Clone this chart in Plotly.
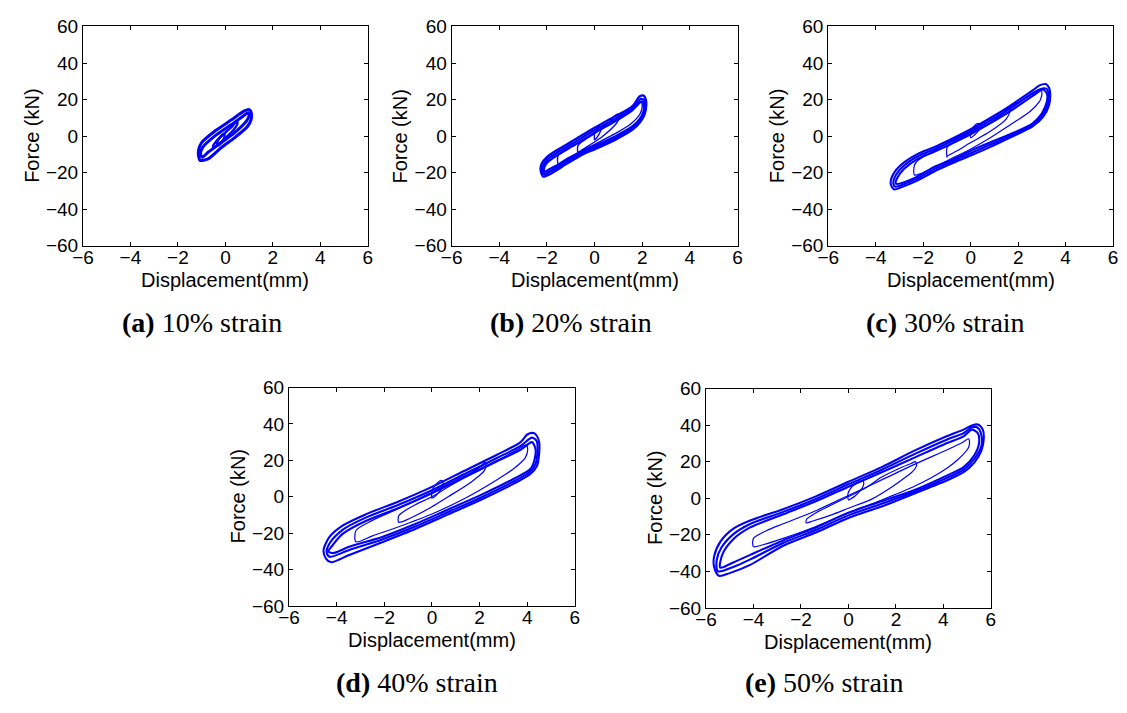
import plotly.graph_objects as go

# ---------------------------------------------------------------
# Axis ticks and panel captions
# ---------------------------------------------------------------
DISP_TICKS = [-6, -4, -2, 0, 2, 4, 6]
FORCE_TICKS = [-60, -40, -20, 0, 20, 40, 60]
PANEL_TAGS = ["a", "b", "c", "d", "e"]
STRAIN_LEVELS = ["10%", "20%", "30%", "40%", "50%"]

# ---------------------------------------------------------------
# Hysteresis loops, points are (displacement mm, force kN).
# BAND_* : outer / middle / inner edges of the repeated full-amplitude cycles
# INNER_*: the smaller ramp-up cycles
# ---------------------------------------------------------------
BAND_10 = [
    [(-1.07, -13.3), (-0.73, -12.4), (-0.17, -6.2), (0.38, -0.9), (0.93, 5.3), (1.08, 9.0),
     (1.10, 12.0), (1.05, 14.0), (0.98, 14.6), (0.80, 13.8), (0.24, 8.8), (-0.45, 2.7),
     (-1.00, -3.5), (-1.12, -7.0), (-1.14, -10.0), (-1.10, -12.5), (-1.07, -13.3)],
    [(-0.98, -11.5), (-0.73, -8.8), (-0.17, -3.5), (0.38, 1.8), (0.90, 8.5), (1.00, 11.5),
     (0.95, 12.8), (0.80, 11.5), (0.24, 6.2), (-0.45, 0.0), (-0.95, -6.0), (-1.05, -9.5),
     (-0.98, -11.5)],
]
INNER_10 = [
    [(-0.52, -5.3), (-0.40, -3.0), (0.00, 2.0), (0.30, 5.5), (0.49, 8.5), (0.50, 6.5),
     (0.35, 3.5), (0.00, -1.0), (-0.30, -4.5), (-0.50, -6.5), (-0.52, -5.3)],
    [(-0.35, -4.5), (-0.30, -2.0), (-0.15, 0.5), (-0.05, 1.0), (-0.05, -1.0), (-0.15, -3.5),
     (-0.30, -5.0), (-0.35, -4.5)],
]

BAND_20 = [
    [(-2.16, -22.1), (-1.88, -20.8), (-1.19, -15.3), (-0.50, -10.0), (0.00, -7.2), (0.88, -1.9),
     (1.58, 3.4), (1.90, 7.5), (2.10, 12.0), (2.17, 17.0), (2.15, 20.0), (2.06, 22.2),
     (1.90, 21.8), (1.58, 16.3), (0.88, 11.0), (0.00, 4.6), (-0.91, -2.5), (-1.60, -7.8),
     (-2.00, -11.5), (-2.22, -15.0), (-2.27, -18.0), (-2.22, -20.8), (-2.16, -22.1)],
    [(-2.13, -20.8), (-1.88, -19.4), (-1.19, -14.2), (-0.50, -8.9), (0.00, -6.2), (0.88, -0.9),
     (1.58, 4.4), (1.90, 8.5), (2.08, 12.7), (2.13, 17.0), (2.07, 19.8), (1.95, 20.4),
     (1.58, 15.2), (0.88, 9.6), (0.00, 3.2), (-0.91, -3.9), (-1.60, -9.2), (-2.00, -13.0),
     (-2.17, -16.2), (-2.19, -19.2), (-2.13, -20.8)],
    [(-2.10, -19.5), (-1.88, -18.0), (-1.19, -13.3), (-0.50, -8.0), (0.00, -5.3), (0.88, 0.0),
     (1.58, 5.3), (1.90, 9.5), (2.05, 13.3), (2.08, 17.0), (1.99, 19.0), (1.58, 14.2),
     (0.88, 8.3), (0.00, 1.8), (-0.91, -5.3), (-1.60, -10.6), (-2.00, -14.5), (-2.12, -17.5),
     (-2.10, -19.5)],
]
INNER_20 = [
    [(0.00, -2.0), (0.00, 1.5), (0.10, 4.2), (0.24, 5.3), (0.27, 3.5), (0.18, 1.0),
     (0.05, -1.5), (0.00, -2.0)],
    [(-0.70, -5.3), (-0.50, -2.7), (0.00, 1.5), (0.60, 7.6), (0.95, 12.0), (1.03, 11.0),
     (0.98, 8.3), (0.85, 6.0), (0.33, -0.2), (-0.22, -5.0), (-0.64, -8.5), (-0.70, -8.8),
     (-0.70, -5.3)],
    [(-1.53, -10.6), (-1.20, -7.5), (-0.60, -3.0), (0.00, 2.0), (0.88, 8.5), (1.58, 14.5),
     (1.95, 19.0), (2.00, 16.0), (1.90, 12.0), (1.50, 6.5), (0.88, 1.5), (0.00, -4.5),
     (-0.60, -8.5), (-1.20, -12.5), (-1.53, -15.0), (-1.53, -10.6)],
]

BAND_30 = [
    [(-3.20, -29.2), (-2.93, -28.0), (-2.23, -24.2), (-1.54, -19.3), (-0.85, -15.2), (0.00, -10.6),
     (0.81, -6.0), (1.64, -0.9), (2.61, 5.3), (3.05, 10.5), (3.30, 17.0), (3.35, 23.0),
     (3.30, 26.5), (3.16, 28.5), (2.90, 27.8), (2.61, 25.0), (1.64, 16.5), (0.81, 9.8),
     (0.00, 3.8), (-0.85, -1.8), (-1.54, -6.0), (-2.23, -9.7), (-2.79, -14.2), (-3.20, -19.5),
     (-3.37, -24.8), (-3.32, -27.8), (-3.20, -29.2)],
    [(-3.18, -27.6), (-2.93, -26.8), (-2.23, -23.1), (-1.54, -18.0), (-0.85, -14.2), (0.00, -9.3),
     (0.81, -4.7), (1.64, 0.0), (2.61, 6.1), (3.02, 11.5), (3.25, 17.7), (3.29, 23.0),
     (3.18, 26.0), (2.90, 25.6), (2.61, 23.5), (1.64, 15.0), (0.81, 8.4), (0.00, 2.4),
     (-0.85, -3.1), (-1.54, -7.2), (-2.23, -11.0), (-2.79, -15.9), (-3.15, -21.2),
     (-3.26, -25.4), (-3.18, -27.6)],
    [(-3.15, -26.0), (-2.93, -25.7), (-2.23, -22.0), (-1.54, -16.8), (-0.85, -13.3), (0.00, -8.0),
     (0.81, -3.5), (1.64, 0.9), (2.61, 7.0), (3.00, 12.5), (3.20, 18.5), (3.22, 23.0),
     (3.05, 25.5), (2.61, 22.0), (1.64, 13.5), (0.81, 7.0), (0.00, 1.0), (-0.85, -4.4),
     (-1.54, -8.5), (-2.23, -12.4), (-2.79, -17.7), (-3.10, -23.0), (-3.15, -26.0)],
]
INNER_30 = [
    [(0.00, -0.9), (0.00, 2.5), (0.12, 5.2), (0.32, 7.0), (0.40, 5.8), (0.33, 3.0),
     (0.15, 0.5), (0.00, -0.9)],
    [(-1.00, -6.2), (-0.85, -4.4), (0.00, 1.8), (0.81, 7.1), (1.40, 13.0), (1.64, 16.3),
     (1.66, 14.0), (1.50, 9.5), (0.81, 2.5), (0.00, -3.5), (-0.57, -8.0), (-0.99, -11.0),
     (-1.00, -11.5), (-1.00, -6.2)],
    [(-2.37, -15.9), (-2.23, -13.3), (-1.54, -8.0), (-0.85, -2.7), (0.00, 3.0), (0.81, 9.5),
     (1.64, 16.0), (2.61, 23.0), (2.95, 25.7), (3.00, 23.0), (2.95, 20.4), (2.90, 19.0),
     (2.50, 13.5), (1.64, 6.0), (0.81, -1.0), (0.00, -7.0), (-0.85, -12.5), (-1.54, -17.0),
     (-2.10, -20.5), (-2.37, -21.2), (-2.37, -15.9)],
]

BAND_40 = [
    [(-4.23, -36.0), (-3.47, -32.0), (-2.09, -25.0), (-0.70, -17.7), (0.68, -9.7), (2.06, -1.7),
     (3.44, 7.2), (4.13, 12.5), (4.41, 17.0), (4.50, 24.0), (4.50, 30.0), (4.40, 33.5),
     (4.27, 35.0), (4.00, 34.2), (3.72, 30.0), (2.75, 23.2), (1.37, 14.3), (0.00, 5.4),
     (-1.40, -2.6), (-2.78, -9.7), (-3.75, -15.9), (-4.30, -22.1), (-4.55, -29.3),
     (-4.45, -34.0), (-4.23, -36.0)],
    [(-4.30, -33.0), (-3.47, -29.3), (-2.09, -23.5), (-0.70, -16.4), (0.68, -8.4), (2.06, -0.4),
     (3.44, 8.5), (4.13, 13.9), (4.36, 18.5), (4.43, 25.0), (4.40, 30.5), (4.20, 32.5),
     (3.72, 27.9), (2.75, 21.4), (1.37, 12.5), (0.00, 3.6), (-1.40, -4.4), (-2.78, -11.5),
     (-3.75, -18.2), (-4.30, -25.7), (-4.42, -30.5), (-4.30, -33.0)],
    [(-4.35, -30.0), (-4.16, -31.0), (-3.47, -27.5), (-2.09, -22.1), (-0.70, -15.0), (0.68, -7.0),
     (2.06, 1.0), (3.44, 9.9), (4.13, 15.2), (4.30, 20.0), (4.35, 26.0), (4.20, 30.0),
     (3.72, 25.8), (2.75, 19.6), (1.37, 10.7), (0.00, 1.9), (-1.40, -6.2), (-2.78, -13.3),
     (-3.75, -20.4), (-4.25, -28.0), (-4.35, -30.0)],
]
INNER_40 = [
    [(0.00, -0.8), (0.00, 3.0), (0.15, 6.5), (0.40, 9.0), (0.47, 7.5), (0.40, 4.5),
     (0.20, 1.0), (0.05, -0.5), (0.00, -0.8)],
    [(-1.40, -10.6), (-1.26, -8.8), (-0.70, -4.4), (0.00, 0.0), (0.68, 5.4), (1.37, 10.7),
     (2.06, 16.9), (2.22, 19.1), (2.27, 17.0), (2.20, 14.3), (1.64, 8.0), (0.68, 0.0),
     (0.00, -5.5), (-0.70, -10.5), (-1.26, -13.8), (-1.40, -14.0), (-1.40, -10.6)],
    [(-3.19, -18.6), (-2.50, -13.0), (-1.40, -6.5), (0.00, 2.5), (1.37, 11.5), (2.75, 20.0),
     (3.60, 26.0), (3.95, 28.5), (4.02, 26.0), (3.92, 21.5), (3.44, 15.5), (2.75, 9.5),
     (1.37, -1.0), (0.00, -9.5), (-1.40, -16.5), (-2.50, -21.5), (-3.19, -24.8), (-3.19, -18.6)],
]

BAND_50 = [
    [(-5.45, -42.5), (-5.00, -41.0), (-4.14, -36.5), (-2.75, -26.0), (-1.37, -18.8), (0.00, -10.8),
     (1.40, -4.5), (2.78, 2.6), (4.16, 9.8), (4.85, 14.2), (5.30, 19.5), (5.60, 26.0),
     (5.70, 32.5), (5.66, 37.5), (5.45, 40.3), (5.20, 39.8), (4.85, 37.5), (4.16, 34.0),
     (2.78, 26.0), (1.40, 17.0), (0.00, 9.0), (-1.37, 1.0), (-2.75, -6.0), (-4.14, -12.2),
     (-4.83, -16.5), (-5.38, -23.5), (-5.66, -32.0), (-5.65, -38.0), (-5.45, -42.5)],
    [(-5.50, -40.0), (-4.83, -37.5), (-4.14, -33.5), (-2.75, -24.5), (-1.37, -17.4), (0.00, -9.4),
     (1.40, -3.1), (2.78, 3.5), (4.16, 11.2), (4.85, 15.6), (5.30, 21.5), (5.60, 28.5),
     (5.60, 34.5), (5.45, 38.5), (5.20, 38.8), (4.85, 35.6), (4.16, 32.1), (2.78, 24.1),
     (1.40, 15.6), (0.00, 7.6), (-1.37, -0.4), (-2.75, -7.5), (-4.14, -14.1), (-4.83, -19.5),
     (-5.35, -27.0), (-5.55, -34.0), (-5.50, -40.0)],
    [(-5.40, -38.0), (-4.83, -35.0), (-4.14, -31.0), (-2.75, -23.1), (-1.37, -16.0), (0.00, -8.0),
     (1.40, -1.7), (2.78, 4.5), (4.16, 12.5), (4.85, 17.0), (5.30, 23.5), (5.50, 30.0),
     (5.45, 35.5), (5.20, 37.5), (4.85, 33.8), (4.16, 30.2), (2.78, 22.2), (1.40, 14.2),
     (0.00, 6.3), (-1.37, -1.7), (-2.75, -8.8), (-4.14, -16.0), (-4.83, -22.2), (-5.30, -30.5),
     (-5.40, -38.0)],
]
INNER_50 = [
    [(0.00, -1.0), (-0.02, 2.5), (0.10, 5.5), (0.35, 8.5), (0.58, 9.8), (0.65, 8.0),
     (0.55, 5.0), (0.30, 1.5), (0.08, -0.5), (0.00, -1.0)],
    [(-1.76, -11.5), (-1.37, -8.0), (-0.68, -3.5), (0.00, 0.9), (0.70, 5.4), (1.40, 11.6),
     (2.09, 16.0), (2.64, 19.0), (2.82, 20.0), (2.87, 18.0), (2.70, 14.5), (2.40, 11.5),
     (1.81, 6.0), (0.98, -0.5), (0.00, -5.5), (-0.68, -9.0), (-1.50, -12.5), (-1.78, -13.5),
     (-1.76, -11.5)],
    [(-4.00, -22.0), (-3.44, -17.7), (-2.75, -14.0), (-1.40, -7.0), (0.00, 1.5), (1.40, 10.0),
     (2.78, 18.5), (4.16, 26.5), (4.80, 30.5), (5.06, 32.5), (5.10, 30.0), (5.05, 27.5),
     (4.60, 21.0), (4.16, 16.5), (3.47, 11.0), (2.78, 6.5), (1.40, -1.0), (0.00, -8.0),
     (-1.37, -15.5), (-2.75, -22.0), (-3.60, -25.5), (-4.00, -26.5), (-4.00, -22.0)],
]

BANDS = [BAND_10, BAND_20, BAND_30, BAND_40, BAND_50]
INNERS = [INNER_10, INNER_20, INNER_30, INNER_40, INNER_50]

# ---------------------------------------------------------------
# Layout (pixel boxes of each axes: left, right, top, bottom)
# ---------------------------------------------------------------
W, H = 1127, 713
BOXES = [
    (73, 362, 17, 243),
    (447, 737, 17, 243),
    (829, 1118, 17, 243),
    (282, 572, 389, 614),
    (705, 994, 390, 616),
]
CAPTION_X = [194, 568, 948, 412, 825]
CAPTION_Y = [322, 322, 322, 693, 693]
BAND_WIDTH = [3.0, 2.3, 2.1, 2.1, 2.1]
INNER_WIDTH = [2.4, 1.4, 1.2, 1.2, 1.2]

BLUE = "#0000ff"
SANS = "Liberation Sans, Arial, Helvetica, sans-serif"
SERIF = "Liberation Serif, Times New Roman, serif"
TICK_SIZE = 19
TITLE_SIZE = 20
CAPTION_SIZE = 28

fig = go.Figure()
annotations = []

for i, (box, bands, inners) in enumerate(zip(BOXES, BANDS, INNERS)):
    left, right, top, bottom = box
    sfx = "" if i == 0 else str(i + 1)
    xa, ya = "x" + sfx, "y" + sfx

    for loop in inners:
        fig.add_trace(go.Scatter(
            x=[p[0] for p in loop], y=[p[1] for p in loop], mode="lines",
            line=dict(color=BLUE, width=INNER_WIDTH[i], shape="spline", smoothing=0.8),
            xaxis=xa, yaxis=ya, showlegend=False, hoverinfo="skip"))
    for loop in bands:
        fig.add_trace(go.Scatter(
            x=[p[0] for p in loop], y=[p[1] for p in loop], mode="lines",
            line=dict(color=BLUE, width=BAND_WIDTH[i], shape="spline", smoothing=0.8),
            xaxis=xa, yaxis=ya, showlegend=False, hoverinfo="skip"))

    axis_common = dict(
        showgrid=False, zeroline=False, showline=True, linecolor="black", linewidth=1,
        mirror="ticks", ticks="inside", ticklen=4, tickwidth=1, tickcolor="black",
        tickfont=dict(family=SANS, size=TICK_SIZE, color="black"), fixedrange=True,
    )
    fig.layout["xaxis" + sfx] = dict(
        axis_common, domain=[left / W, right / W], range=[-6, 6],
        tickvals=DISP_TICKS, anchor=ya, ticklabelstandoff=-6)
    fig.layout["yaxis" + sfx] = dict(
        axis_common, domain=[1 - bottom / H, 1 - top / H], range=[-60, 60],
        tickvals=FORCE_TICKS, anchor=xa)

    # axis titles
    annotations.append(dict(
        text="Displacement(mm)", x=(left + right) / 2 / W, y=1 - (bottom + 35) / H,
        xref="paper", yref="paper", showarrow=False, xanchor="center", yanchor="middle",
        font=dict(family=SANS, size=TITLE_SIZE, color="black")))
    annotations.append(dict(
        text="Force (kN)", x=(left - 52) / W, y=1 - (top + bottom) / 2 / H,
        xref="paper", yref="paper", showarrow=False, xanchor="center", yanchor="middle",
        textangle=-90, font=dict(family=SANS, size=TITLE_SIZE, color="black")))
    # panel caption
    annotations.append(dict(
        text="<b>(%s)</b> %s strain" % (PANEL_TAGS[i], STRAIN_LEVELS[i]),
        x=CAPTION_X[i] / W, y=1 - CAPTION_Y[i] / H,
        xref="paper", yref="paper", showarrow=False, xanchor="center", yanchor="middle",
        font=dict(family=SERIF, size=CAPTION_SIZE, color="black")))

fig.update_layout(
    width=W, height=H, autosize=False,
    margin=dict(l=0, r=0, t=0, b=0),
    paper_bgcolor="white", plot_bgcolor="white",
    annotations=annotations,
)

fig.write_html("out.html")
